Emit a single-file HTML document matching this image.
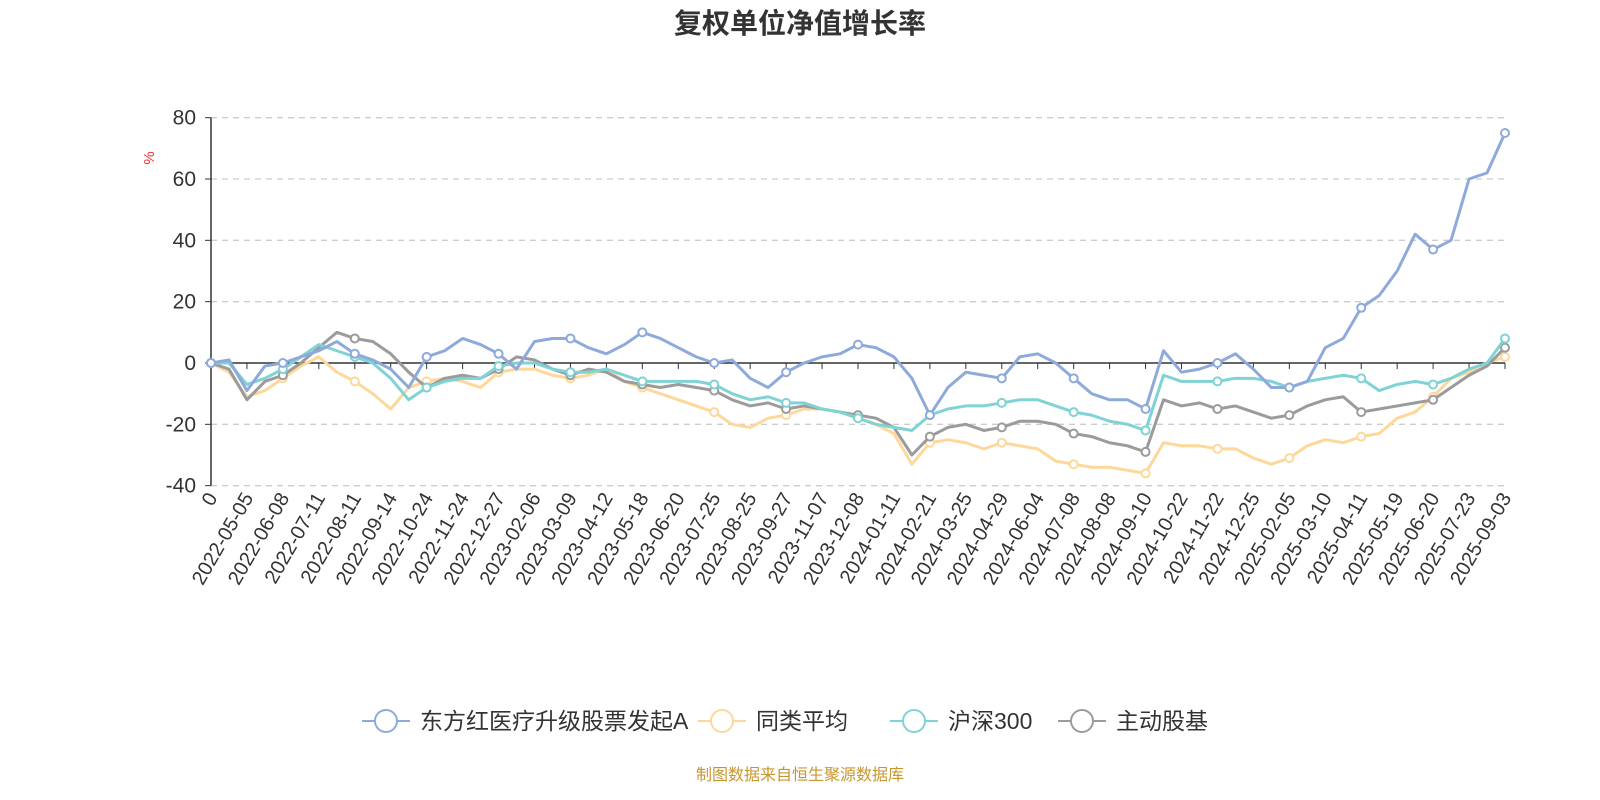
<!DOCTYPE html>
<html><head><meta charset="utf-8"><style>
body{margin:0;background:#fff;width:1600px;height:800px;overflow:hidden}
svg{display:block;font-family:"Liberation Sans","Noto Sans CJK SC",sans-serif}
</style></head><body>
<svg id="chart" width="1600" height="800" viewBox="0 0 1600 800" xmlns="http://www.w3.org/2000/svg">
<text x="800" y="33" text-anchor="middle" font-size="28" font-weight="bold" fill="#333">复权单位净值增长率</text>
<text x="0" y="0" transform="translate(154,158) rotate(-90)" text-anchor="middle" font-size="15" fill="#e33">%</text>
<g id="grid"></g><g id="axes"></g><g id="series"></g>
<g id="legend"></g>
<text x="800" y="780" text-anchor="middle" font-size="16" fill="#c8962e">制图数据来自恒生聚源数据库</text>
</svg>
<script>
const xLabels=["0","2022-05-05","2022-06-08","2022-07-11","2022-08-11","2022-09-14","2022-10-24","2022-11-24","2022-12-27","2023-02-06","2023-03-09","2023-04-12","2023-05-18","2023-06-20","2023-07-25","2023-08-25","2023-09-27","2023-11-07","2023-12-08","2024-01-11","2024-02-21","2024-03-25","2024-04-29","2024-06-04","2024-07-08","2024-08-08","2024-09-10","2024-10-22","2024-11-22","2024-12-25","2025-02-05","2025-03-10","2025-04-11","2025-05-19","2025-06-20","2025-07-23","2025-09-03"];
const yTicks=[80,60,40,20,0,-20,-40];
const seriesNames=["东方红医疗升级股票发起A","同类平均","沪深300","主动股基"];
const fundValues=[0,1,-9,-1,0,2,4,7,3,1,-2,-8,2,4,8,6,3,-2,7,8,8,5,3,6,10,8,5,2,0,1,-5,-8,-3,0,2,3,6,5,2,-5,-17,-8,-3,-4,-5,2,3,0,-5,-10,-12,-12,-15,4,-3,-2,0,3,-2,-8,-8,-6,5,8,18,22,30,42,37,40,60,62,75];
const peerValues=[0,-3,-11,-9,-5,-1,2,-3,-6,-10,-15,-8,-6,-5,-6,-8,-3,-2,-2,-4,-5,-4,-2,-6,-8,-10,-12,-14,-16,-20,-21,-18,-17,-15,-15,-16,-18,-20,-23,-33,-26,-25,-26,-28,-26,-27,-28,-32,-33,-34,-34,-35,-36,-26,-27,-27,-28,-28,-31,-33,-31,-27,-25,-26,-24,-23,-18,-16,-11,-5,-3,0,2];
const hs300Values=[0,0,-7,-5,-2,2,6,4,2,0,-5,-12,-8,-6,-5,-5,-1,0,0,-2,-3,-3,-2,-4,-6,-6,-6,-6,-7,-10,-12,-11,-13,-13,-15,-16,-18,-20,-21,-22,-17,-15,-14,-14,-13,-12,-12,-14,-16,-17,-19,-20,-22,-4,-6,-6,-6,-5,-5,-6,-8,-6,-5,-4,-5,-9,-7,-6,-7,-5,-2,0,8];
const activeValues=[0,-2,-12,-6,-4,0,5,10,8,7,3,-3,-8,-5,-4,-5,-2,2,1,-2,-4,-2,-3,-6,-7,-8,-7,-8,-9,-12,-14,-13,-15,-14,-15,-16,-17,-18,-21,-30,-24,-21,-20,-22,-21,-19,-19,-20,-23,-24,-26,-27,-29,-12,-14,-13,-15,-14,-16,-18,-17,-14,-12,-11,-16,-15,-14,-13,-12,-8,-4,-1,5];
const NS="http://www.w3.org/2000/svg";
const X0=211,X1=1505,Y0=363,PER=368/120;
const yS=v=>Y0-v*PER;
function mk(tag,attrs,parent){const e=document.createElementNS(NS,tag);for(const k in attrs)e.setAttribute(k,attrs[k]);parent.appendChild(e);return e;}
const grid=document.getElementById('grid'),axes=document.getElementById('axes'),ser=document.getElementById('series'),leg=document.getElementById('legend');
yTicks.forEach(t=>{
 if(t!==0){const l=mk('line',{x1:X0,x2:X1,y1:yS(t),y2:yS(t),stroke:'#ccc','stroke-width':1.3,'stroke-dasharray':'6,5'},grid);
 
 }
 const tk=mk('line',{x1:X0-6,x2:X0,y1:yS(t),y2:yS(t),stroke:'#333'},axes);
 
 
 const tx=mk('text',{x:X0-15,y:yS(t)+7,'text-anchor':'end','font-size':21,fill:'#333'},axes);
 tx.textContent=t;
 
 
});
const ya=mk('line',{x1:X0,x2:X0,y1:yS(80),y2:yS(-40),stroke:'#333','stroke-width':1.5},axes);


const xa=mk('line',{x1:X0,x2:X1,y1:Y0,y2:Y0,stroke:'#333','stroke-width':1.5},axes);


const xStep=(X1-X0)/(xLabels.length-1);
const LY=yS(-40)+12;
xLabels.forEach((lb,i)=>{
 const x=X0+i*xStep;
 const tk=mk('line',{x1:x,x2:x,y1:Y0,y2:Y0+6,stroke:'#333'},axes);
 
 
 const tx=mk('text',{transform:`translate(${x+7},${LY}) rotate(-60)`,'text-anchor':'end','font-size':20,fill:'#333'},axes);
 tx.textContent=lb;
 
 
});
const colors=['#8eaadb','#fdd89a','#7fd3d5','#9b9b9b'];
const all=[fundValues,peerValues,hs300Values,activeValues];
const order=[1,3,2,0];
order.forEach(si=>{
 const vals=all[si];const n=vals.length;const xs=i=>X0+i*(X1-X0)/(n-1);
 const g=mk('g',{},ser);
 
 
 const p=mk('polyline',{points:vals.map((v,i)=>xs(i)+','+yS(v)).join(' '),fill:'none',stroke:colors[si],'stroke-width':3,'stroke-linejoin':'round'},g);
 
 
 vals.forEach((v,i)=>{ if(i%4===0||i===n-1){
  const c=mk('circle',{cx:xs(i),cy:yS(v),r:4,fill:'#fff',stroke:colors[si],'stroke-width':2},g);
  
  
 }});
});
const legX=[362,698,890,1058];
seriesNames.forEach((nm,i)=>{
 const g=mk('g',{},leg);
 
 
 const x=legX[i],y=721;
 mk('line',{x1:x,x2:x+48,y1:y,y2:y,stroke:colors[i],'stroke-width':2},g);
 mk('circle',{cx:x+24,cy:y,r:11,fill:'#fff',stroke:colors[i],'stroke-width':2},g);
 const t=mk('text',{x:x+58,y:y+8,'font-size':23,fill:'#333'},g);
 t.textContent=nm;
});
</script>
</body></html>
